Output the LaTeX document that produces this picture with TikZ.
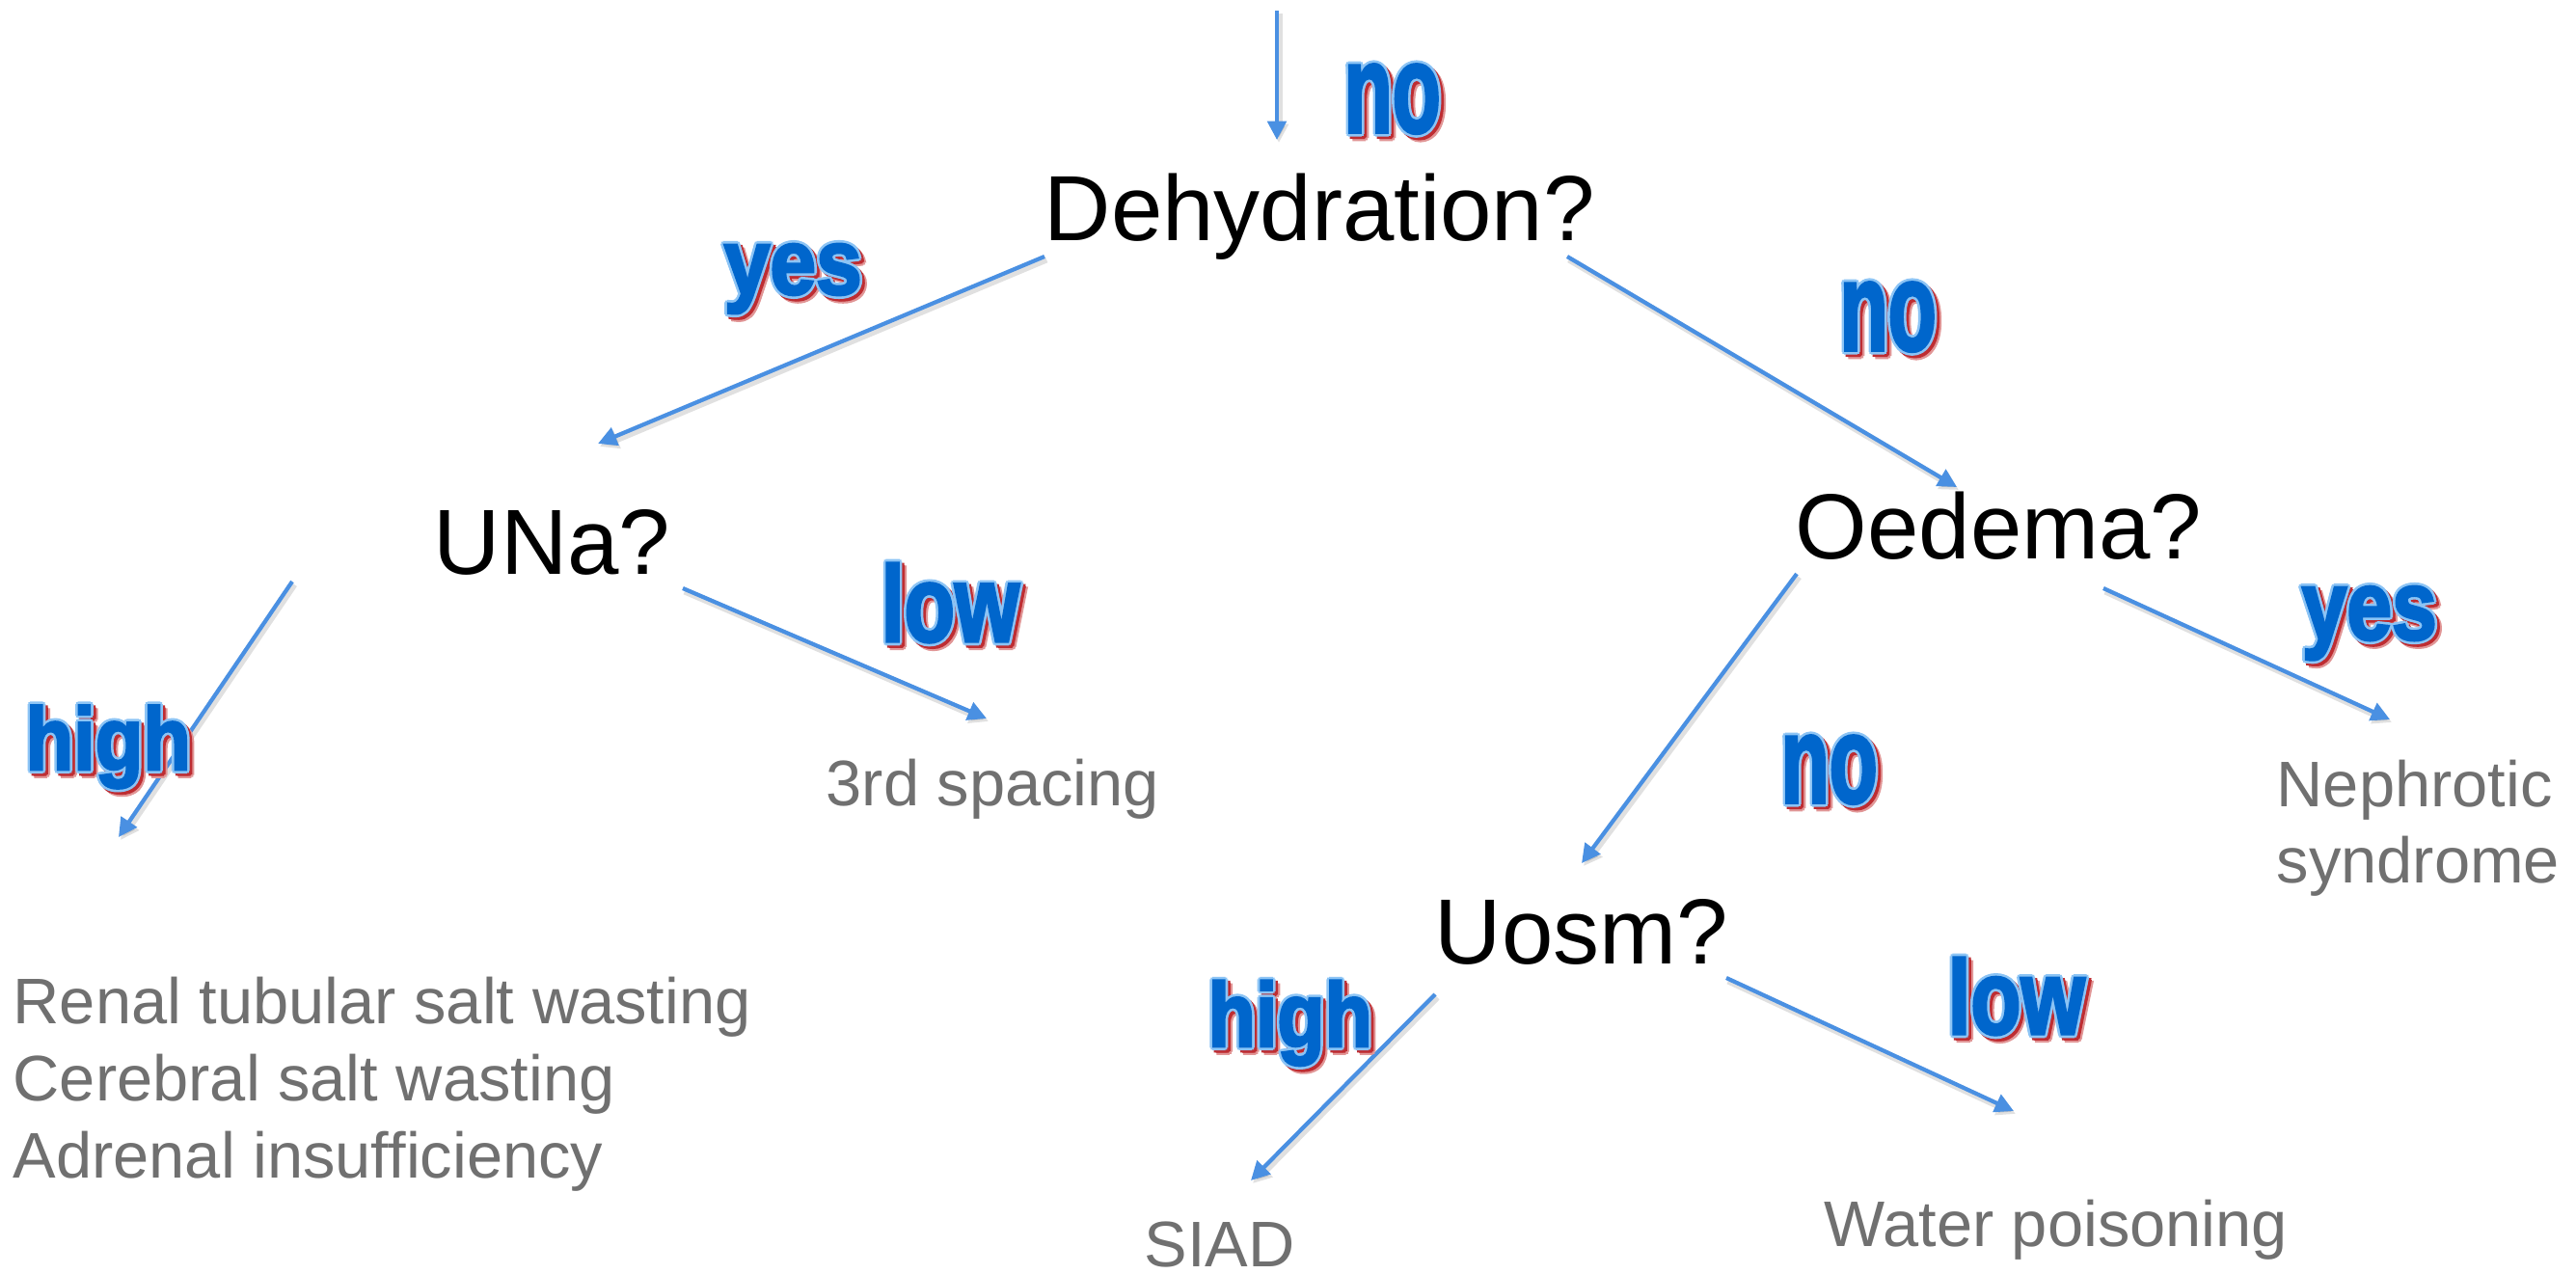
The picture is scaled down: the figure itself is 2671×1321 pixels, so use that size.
\documentclass[tikz,border=0pt]{standalone}
\usepackage{fontspec}
\setmainfont{Liberation Sans}
\newfontfamily\lblfont{Liberation Sans Bold}[FakeBold=3]
\usepackage{graphicx}
\usetikzlibrary{arrows.meta}
\definecolor{arrowblue}{RGB}{74,144,226}
\definecolor{dblue}{RGB}{0,102,204}
\definecolor{lblue}{RGB}{140,196,245}
\definecolor{shred}{RGB}{190,45,50}
\definecolor{shredsoft}{RGB}{225,150,150}
\definecolor{txtgray}{RGB}{112,112,112}
\tikzset{
  q/.style={anchor=base west, inner sep=0pt, font=\fontsize{27.3}{32}\selectfont, text=black},
  res/.style={anchor=base west, inner sep=0pt, font=\fontsize{19}{22.6}\selectfont, text=txtgray},
  fl/.style={anchor=base west, inner sep=0pt, font=\lblfont\fontsize{20}{24}\selectfont},
  conn/.style={draw=arrowblue, line width=1.2pt, -{Triangle[length=5.5pt,width=5.5pt]}},
  connshadow/.style={draw=black, draw opacity=0.12, fill opacity=0.12, line width=2pt, -{Triangle[length=5.5pt,width=5.5pt]}},
}
% one text, drawn with a light-blue outline and a soft red shadow
\newcommand\copyat[3]{\rlap{\color{#1}\kern#2\raise#3\copy0}}
\newcommand\fancytext[1]{\setbox0=\hbox{#1}%
  \copyat{shredsoft}{1.8pt}{-1.8pt}\copyat{shredsoft}{2.1pt}{-1.2pt}\copyat{shredsoft}{1.2pt}{-2.1pt}%
  \copyat{shred}{1.2pt}{-1.2pt}\copyat{shred}{1.5pt}{-1.0pt}\copyat{shred}{1.0pt}{-1.5pt}\copyat{shred}{1.4pt}{-0.4pt}\copyat{shred}{0.4pt}{-1.4pt}%
  \copyat{lblue}{0.75pt}{0pt}\copyat{lblue}{-0.75pt}{0pt}\copyat{lblue}{0pt}{0.75pt}\copyat{lblue}{0pt}{-0.75pt}%
  \copyat{lblue}{0.53pt}{0.53pt}\copyat{lblue}{-0.53pt}{0.53pt}\copyat{lblue}{0.53pt}{-0.53pt}\copyat{lblue}{-0.53pt}{-0.53pt}%
  {\color{dblue}\box0}}
\newcommand\arrowconn[2]{%
  \draw[connshadow] ([shift={(2,3)}]#1) -- ([shift={(2,3)}]#2);
  \draw[conn] (#1) -- (#2);}
\begin{document}
\begin{tikzpicture}[x=0.01cm, y=-0.01cm]
\useasboundingbox[fill=white] (0,0) rectangle (2671,1321);

% question nodes
\node[q] (dehyd) at (1082,249) {Dehydration?};
\node[q] (una) at (449,595) {UNa?};
\node[q] (oed) at (1861,579) {Oedema?};
\node[q] (uosm) at (1487,999) {Uosm?};

% result nodes
\node[res] (third) at (856,835) {3rd spacing};
\node[res] (ren1) at (13,1061) {Renal tubular salt wasting};
\node[res] (ren2) at (13,1141) {Cerebral salt wasting};
\node[res] (ren3) at (13,1221) {Adrenal insufficiency};
\node[res] (neph1) at (2360,836) {Nephrotic};
\node[res] (neph2) at (2360,915) {syndrome};
\node[res] (siad) at (1186,1313) {SIAD};
\node[res] (water) at (1891,1292) {Water poisoning};

% connector end points
\coordinate (top) at (1324,11);
\coordinate (dehydin) at (1324,145);
\coordinate (dehydL) at (1083,266);
\coordinate (unain) at (620,460);
\coordinate (dehydR) at (1625,266);
\coordinate (oedin) at (2029,505);
\coordinate (unaL) at (303,603);
\coordinate (renin) at (123,868);
\coordinate (unaR) at (708,610);
\coordinate (thirdin) at (1023,745);
\coordinate (oedL) at (1863,595);
\coordinate (uosmin) at (1640,895);
\coordinate (oedR) at (2181,610);
\coordinate (nephin) at (2478,746);
\coordinate (uosmL) at (1488,1031);
\coordinate (siadin) at (1297,1224);
\coordinate (uosmR) at (1790,1014);
\coordinate (waterin) at (2088,1152);

\arrowconn{top}{dehydin}
\arrowconn{dehydL}{unain}
\arrowconn{dehydR}{oedin}
\arrowconn{unaL}{renin}
\arrowconn{unaR}{thirdin}
\arrowconn{oedL}{uosmin}
\arrowconn{oedR}{nephin}
\arrowconn{uosmL}{siadin}
\arrowconn{uosmR}{waterin}

% branch labels
\node[fl] (lno1) at (1393,137) {\fancytext{\resizebox{1cm}{0.70cm}{no}}};
\node[fl] (lyes1) at (750,305) {\fancytext{\resizebox*{1.43cm}{0.72cm}{yes}}};
\node[fl] (lno2) at (1907,363) {\fancytext{\resizebox{1cm}{0.70cm}{no}}};
\node[fl] (lhigh1) at (26,798) {\fancytext{\resizebox*{1.71cm}{0.86cm}{high}}};
\node[fl] (llow1) at (913,665) {\fancytext{\resizebox{1.43cm}{0.81cm}{low}}};
\node[fl] (lno3) at (1846,832) {\fancytext{\resizebox{1cm}{0.69cm}{no}}};
\node[fl] (lyes2) at (2386,663) {\fancytext{\resizebox*{1.40cm}{0.76cm}{yes}}};
\node[fl] (lhigh2) at (1252,1085) {\fancytext{\resizebox*{1.70cm}{0.88cm}{high}}};
\node[fl] (llow2) at (2019,1072) {\fancytext{\resizebox{1.42cm}{0.79cm}{low}}};
\end{tikzpicture}
\end{document}
